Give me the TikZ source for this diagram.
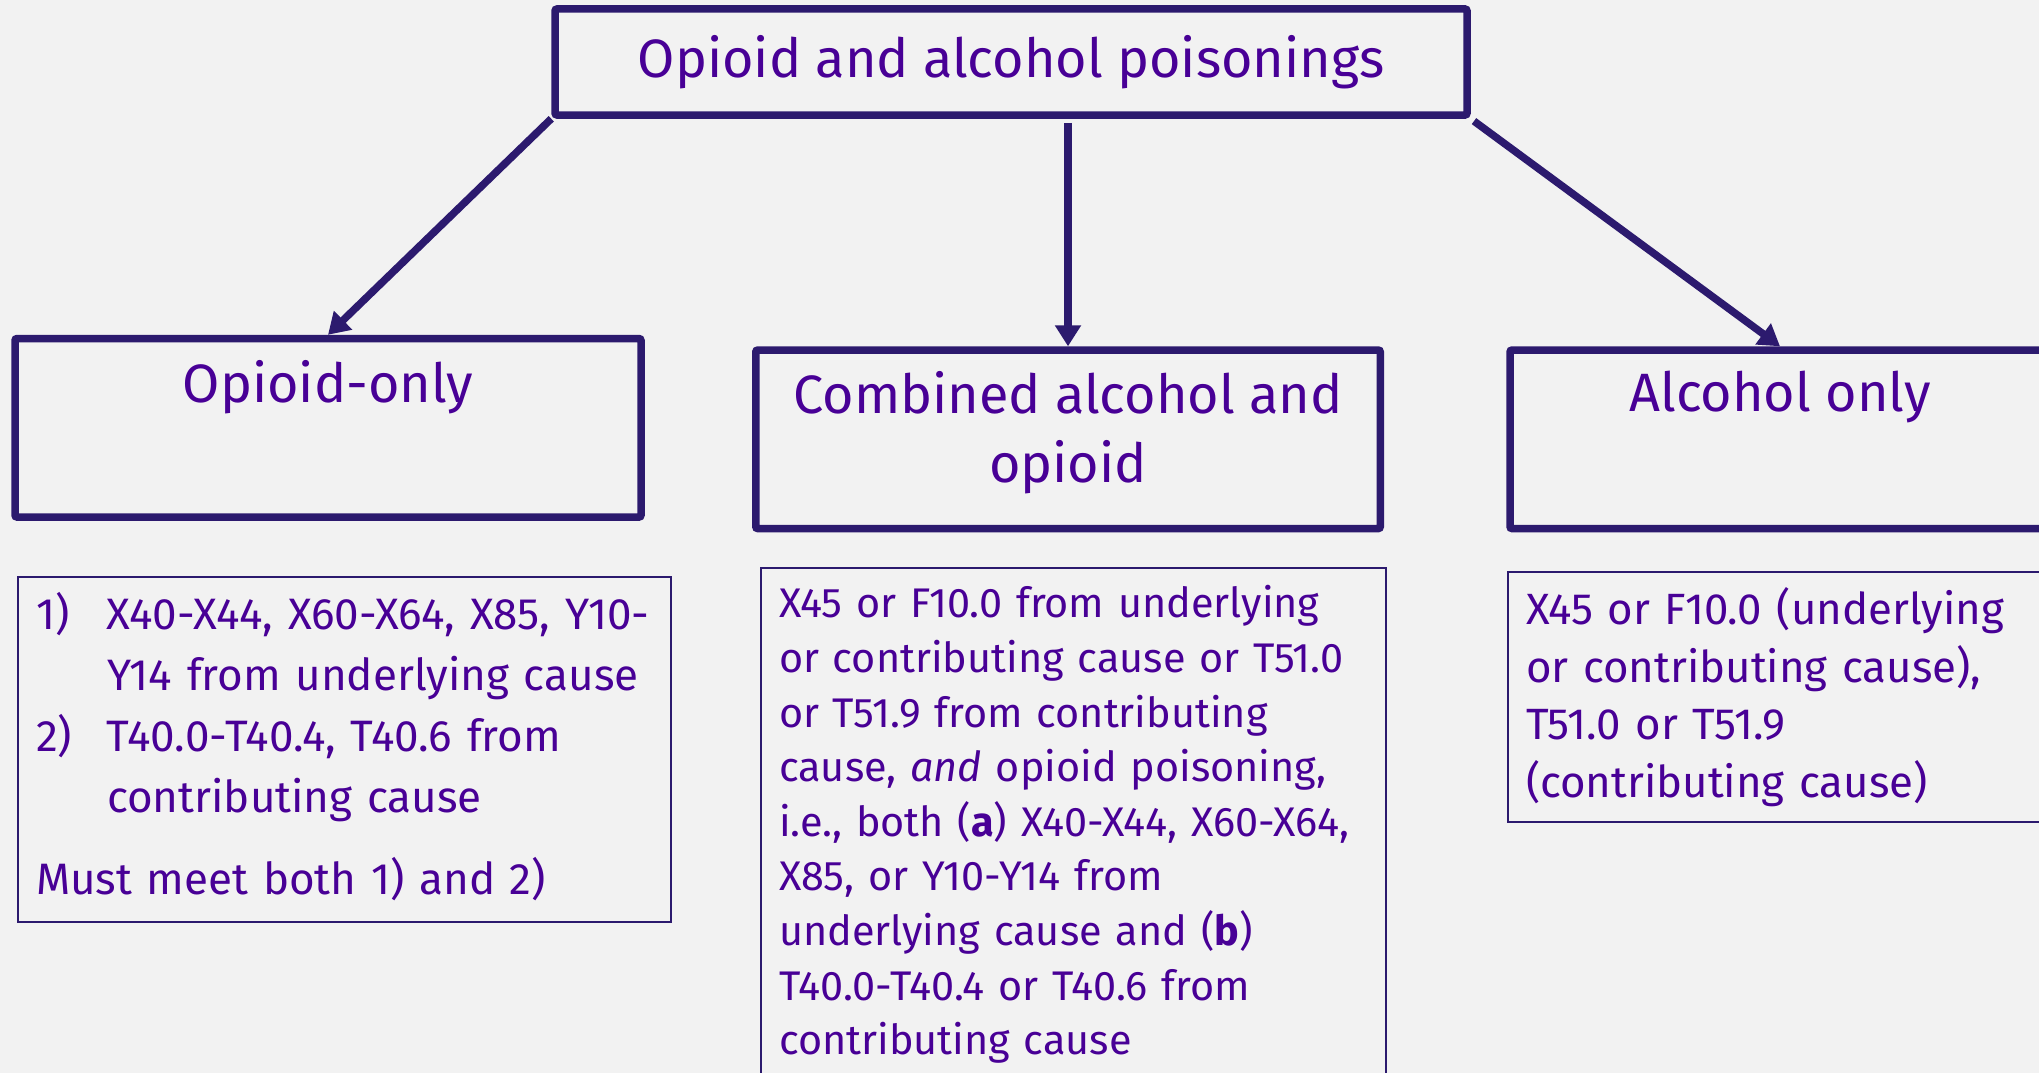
\documentclass[tikz,border=0pt]{standalone}
\usepackage{fontspec}
\setmainfont{Fira Sans}
\usetikzlibrary{arrows.meta, positioning}
\definecolor{linepurple}{RGB}{44,26,110}
\definecolor{textpurple}{RGB}{72,0,150}
\definecolor{bggray}{RGB}{242,242,242}

\begin{document}
\begin{tikzpicture}[x=1pt, y=-1pt,
    headbox/.style={draw=linepurple, line width=7.5pt, rounded corners=2pt, minimum height=178.5pt},
    headlabel/.style={text=textpurple, font=\fontsize{54}{69}\selectfont, align=center, inner sep=0pt},
    critbox/.style={draw=linepurple, line width=2pt, text=textpurple, align=left, anchor=north west, inner xsep=18pt, inner ysep=0pt},
    flowarrow/.style={draw=linepurple, line width=7.5pt, -{Triangle[length=21pt, width=25pt]}}
]
\useasboundingbox (0,0) rectangle (2039,1073);
\clip (0,0) rectangle (2039,1073);
\fill[bggray] (0,0) rectangle (2039,1073);

% Top category
\node[headbox, minimum width=912pt, minimum height=106pt, text=textpurple, font=\fontsize{54}{69}\selectfont] (title) at (1011,62) {Opioid and alcohol poisonings};

% Three sub-categories
\node[headbox, minimum width=626pt] (opioid) at (328,427.8) {};
\node[headlabel, below=25pt of opioid.north] (opioidlbl) {Opioid-only};
\node[headbox, minimum width=624.5pt] (combined) at (1068,439.3) {};
\node[headlabel, below=24.5pt of combined.north] (combinedlbl) {Combined alcohol and\\opioid};
\node[headbox, minimum width=540pt] (alcohol) at (1780,439.3) {};
\node[headlabel, below=24.5pt of alcohol.north] (alcohollbl) {Alcohol only};

% Code definitions
\node[critbox, text width=617pt, minimum height=345pt, font=\fontsize{44}{61}\selectfont] (opioidcrit) at (17,576) {%
\begin{tabular}{@{}p{71pt}@{}l@{}}
1) & X40-X44, X60-X64, X85, Y10-\\
   & Y14 from underlying cause\\
2) & T40.0-T40.4, T40.6 from\\
   & contributing cause\\[21pt]
\multicolumn{2}{@{}l@{}}{Must meet both 1) and 2)}
\end{tabular}};
\node[critbox, text width=589pt, minimum height=513pt, font=\fontsize{41.4}{54.6}\selectfont] (combinedcrit) at (760,567) {X45 or F10.0 from underlying\\ or contributing cause or T51.0\\ or T51.9 from contributing\\ cause, \emph{and} opioid poisoning,\\ i.e., both (\textbf{a}) X40-X44, X60-X64,\\ X85, or Y10-Y14 from\\ underlying cause and (\textbf{b})\\ T40.0-T40.4 or T40.6 from\\ contributing cause};
\node[critbox, text width=506pt, minimum height=250pt, font=\fontsize{43.8}{57.6}\selectfont] (alcoholcrit) at (1507,571) {X45 or F10.0 (underlying\\ or contributing cause),\\ T51.0 or T51.9\\ (contributing cause)};

% Connectors
\draw[flowarrow] (title.south west) -- (opioid.north);
\draw[flowarrow, shorten <=4pt] (title.south -| combined.north) -- (combined.north);
\draw[flowarrow, shorten <=4pt] (title.south east) -- (alcohol.north);
\end{tikzpicture}
\end{document}
